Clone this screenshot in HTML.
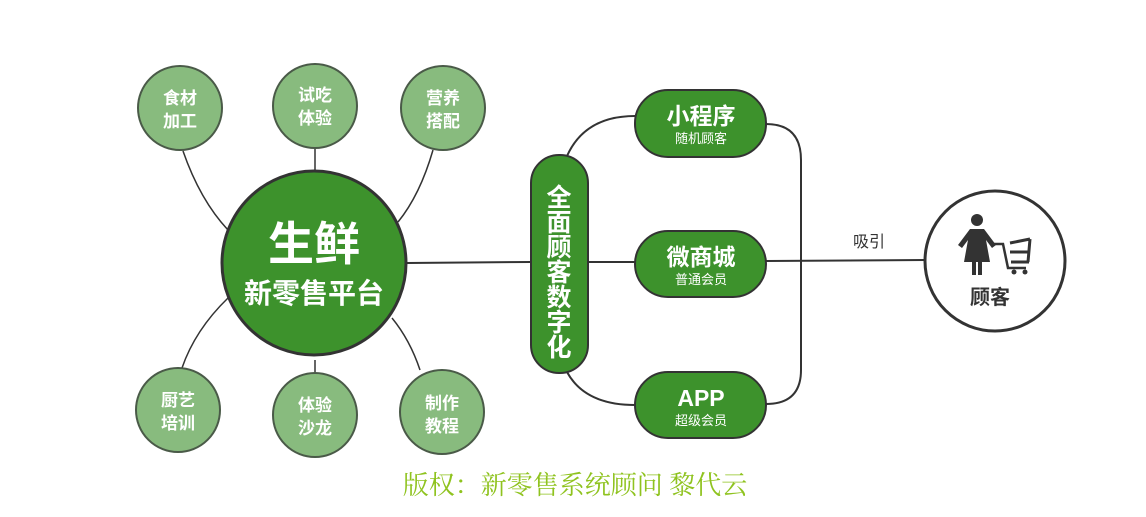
<!DOCTYPE html>
<html><head><meta charset="utf-8"><style>
body{margin:0;background:#fff;width:1146px;height:512px;overflow:hidden}
svg text{font-family:"Liberation Sans","Noto Sans CJK SC",sans-serif;font-weight:bold}
svg text.n{font-weight:normal}
</style></head><body>
<svg width="1146" height="512" viewBox="0 0 1146 512">
<g fill="none" stroke="#333" stroke-width="1.5">
<path d="M183 151 Q200 200 228 230"/>
<path d="M315 149 V172"/>
<path d="M433 150 Q420 195 398 222"/>
<path d="M228 298 Q195 330 182 368"/>
<path d="M315 360 V372"/>
<path d="M392 318 Q410 340 420 370"/>
<path d="M407 263 L531 262" stroke-width="2"/>
<path d="M588 262 L635 262" stroke-width="2"/>
<path d="M567 156 Q585 116 635 116" stroke-width="2"/>
<path d="M567 372 Q585 405 635 405" stroke-width="2"/>
<path d="M766 124 Q801 124 801 160 V370 Q801 404 766 404" stroke-width="2"/>
<path d="M766 261 L925 260" stroke-width="2"/>
</g>
<g fill="#88bb7e" stroke="#4a5a48" stroke-width="2">
<circle cx="180" cy="108" r="42"/><circle cx="315" cy="106" r="42"/><circle cx="443" cy="108" r="42"/>
<circle cx="178" cy="410" r="42"/><circle cx="315" cy="415" r="42"/><circle cx="442" cy="412" r="42"/>
</g>
<g fill="#fff" font-size="17" text-anchor="middle">
<text x="180" y="104">食材</text><text x="180" y="127">加工</text>
<text x="315" y="101">试吃</text><text x="315" y="124">体验</text>
<text x="443" y="104">营养</text><text x="443" y="127">搭配</text>
<text x="178" y="406">厨艺</text><text x="178" y="429">培训</text>
<text x="315" y="411">体验</text><text x="315" y="434">沙龙</text>
<text x="442" y="409">制作</text><text x="442" y="432">教程</text>
</g>
<circle cx="314" cy="263" r="92" fill="#3d922c" stroke="#333" stroke-width="3"/>
<text x="314" y="260" fill="#fff" font-size="46" text-anchor="middle">生鲜</text>
<text x="314" y="303" fill="#fff" font-size="28" text-anchor="middle">新零售平台</text>
<rect x="531" y="155" width="57" height="218" rx="28" fill="#3d922c" stroke="#333" stroke-width="2"/>
<g fill="#fff" font-size="25" text-anchor="middle">
<text x="559" y="206">全</text><text x="559" y="231">面</text><text x="559" y="256">顾</text><text x="559" y="281">客</text><text x="559" y="306">数</text><text x="559" y="331">字</text><text x="559" y="356">化</text>
</g>
<g fill="#3d922c" stroke="#333" stroke-width="2">
<rect x="635" y="90" width="131" height="67" rx="33"/>
<rect x="635" y="231" width="131" height="66" rx="33"/>
<rect x="635" y="372" width="131" height="66" rx="33"/>
</g>
<g fill="#fff" text-anchor="middle">
<text x="701" y="124" font-size="23">小程序</text><text class="n" x="701" y="143" font-size="13">随机顾客</text>
<text x="701" y="265" font-size="23">微商城</text><text class="n" x="701" y="284" font-size="13">普通会员</text>
<text x="701" y="406" font-size="23">APP</text><text class="n" x="701" y="425" font-size="13">超级会员</text>
</g>
<text class="n" x="869" y="247" font-size="16" fill="#333" text-anchor="middle">吸引</text>
<circle cx="995" cy="261" r="70" fill="#fff" stroke="#333" stroke-width="3"/>
<g fill="#333">
<circle cx="977" cy="220" r="6"/>
<path d="M970 229 H984 L996 245 L992 248 L986 240 L990 262 H982 V275 H978 V262 H976 V275 H972 V262 H964 L968 240 L962 248 L958 245 Z"/>
<path d="M993 244 H1003 L1008 268 H1026" fill="none" stroke="#333" stroke-width="2.5"/>
<path d="M1010 243 L1030 239 M1010 252 H1030 M1011 262 H1029 M1030 239 L1028 262" fill="none" stroke="#333" stroke-width="3"/>
<circle cx="1014" cy="272" r="2.5"/><circle cx="1025" cy="272" r="2.5"/>
</g>
<text x="990" y="304" font-size="20" fill="#333" text-anchor="middle">顾客</text>
<text class="n" x="575" y="494" font-size="26" fill="#8fc31f" style="font-family:'Liberation Serif','Noto Serif CJK SC',serif" text-anchor="middle">版权：新零售系统顾问  黎代云</text>
</svg>
</body></html>
